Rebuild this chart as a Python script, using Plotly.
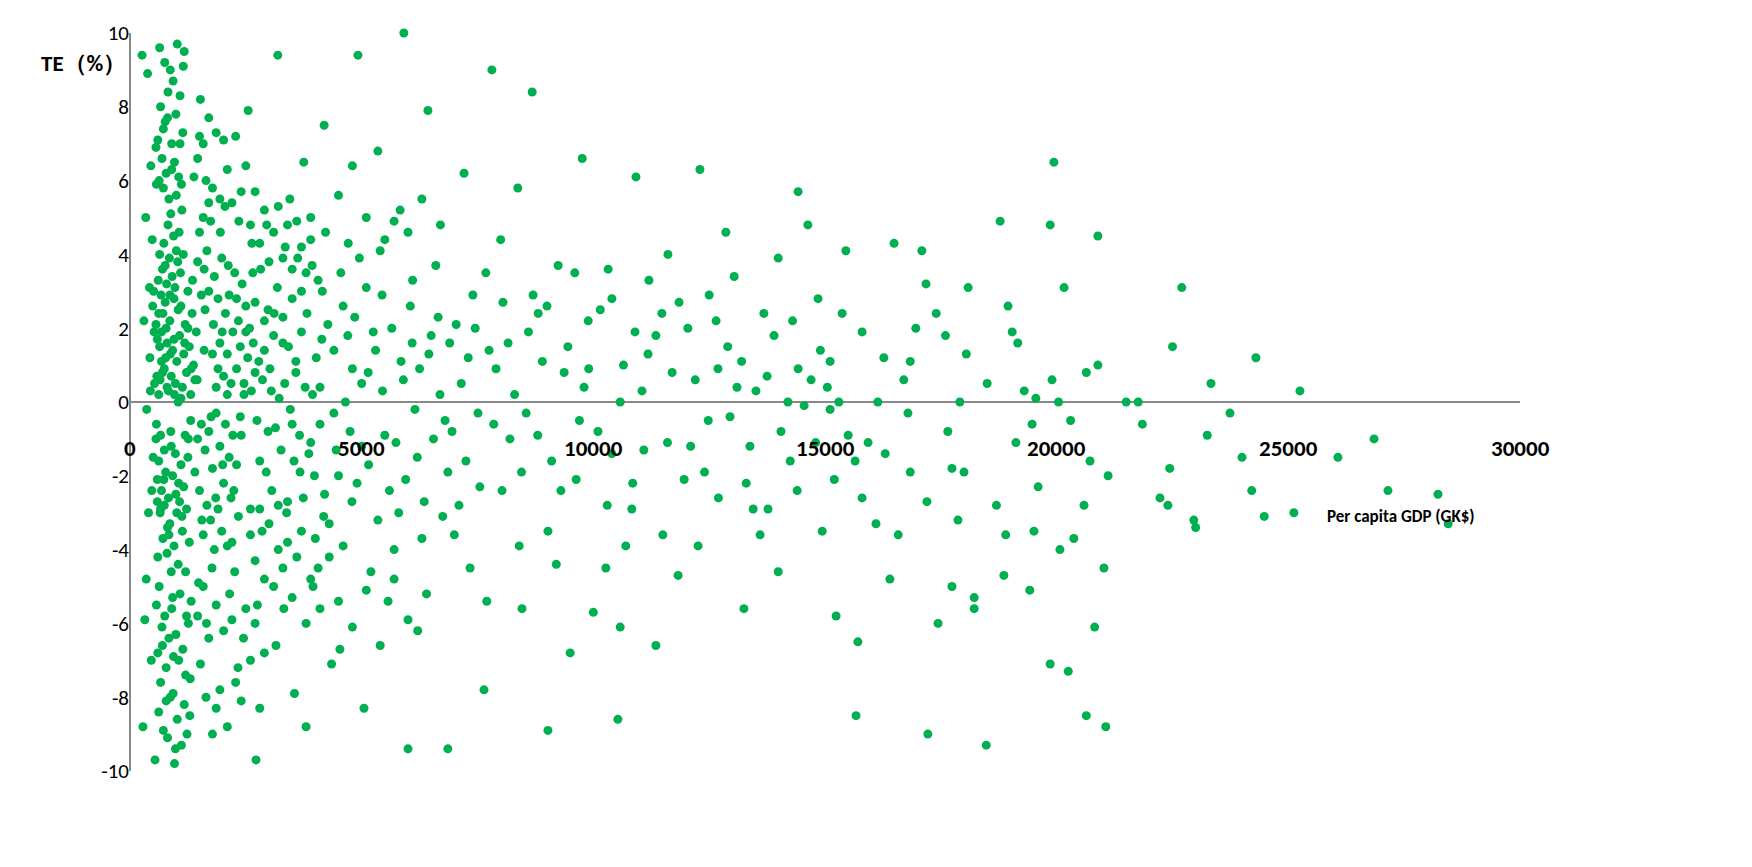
import plotly.graph_objects as go

# (per capita GDP, TE %)
POINTS = [
    (26850, -1.0), (28230, -2.5), (28450, -3.3), (27150, -2.4), (25250, 0.3), (24300, 1.2),
    (22700, 3.1), (22500, 1.5), (23330, 0.5), (23250, -0.9), (23740, -0.3), (24000, -1.5),
    (24210, -2.4), (24480, -3.1), (25120, -3.0), (26070, -1.5), (22440, -1.8), (22400, -2.8),
    (22230, -2.6), (22960, -3.2), (23000, -3.4), (21760, 0.0), (21500, 0.0), (21850, -0.6),
    (20890, 1.0), (20640, 0.8), (21020, -4.5), (21060, -8.8), (20640, -8.5), (20820, -6.1),
    (20890, 4.5), (19940, 6.5), (19860, 4.8), (20160, 3.1), (20250, -7.3), (19860, -7.1),
    (20070, -4.0), (20370, -3.7), (20590, -2.8), (20720, -1.6), (21110, -2.0), (20040, 0.0),
    (19900, 0.6), (19550, 0.1), (19470, -0.6), (19600, -2.3), (19510, -3.5), (19420, -5.1),
    (19120, -1.1), (19160, 1.6), (18950, 2.6), (19040, 1.9), (18780, 4.9), (18480, -9.3),
    (18220, -5.6), (18220, -5.3), (18860, -4.7), (18900, -3.6), (18090, 3.1), (18050, 1.3),
    (17910, 0.0), (17650, -0.8), (17740, -1.8), (17870, -3.2), (17740, -5.0), (17440, -6.0),
    (17220, -9.0), (17400, 2.4), (17090, 4.1), (17180, 3.2), (16960, 2.0), (16840, 1.1),
    (16790, -0.3), (16840, -1.9), (16580, -3.6), (16400, -4.8), (16490, 4.3), (16270, 1.2),
    (16140, 0.0), (15930, -1.1), (15800, -2.6), (15710, -6.5), (15670, -8.5), (15450, 4.1),
    (15370, 2.4), (15110, 1.1), (15110, -0.2), (15200, -2.1), (15240, -5.8), (14940, -3.5),
    (14850, 2.8), (14630, 4.8), (14420, 5.7), (14420, 0.9), (14250, -1.6), (14200, 0.0),
    (13990, 3.9), (13990, -4.6), (13770, -2.9), (13680, 2.4), (13510, 0.3), (13380, -1.2),
    (13250, -5.6), (13040, 3.4), (12860, 4.6), (12690, 0.9), (12480, -0.5), (12300, 6.3),
    (12260, -3.9), (12040, 2.0), (11960, -2.1), (11830, -4.7), (11610, 4.0), (11480, 2.4),
    (11350, -6.6), (11180, 1.3), (11090, -1.3), (10920, 6.1), (10830, -2.9), (10580, 0.0),
    (10580, -6.1), (10530, -8.6), (10320, 3.6), (10270, -4.5), (10100, -0.8), (9890, 2.2),
    (9760, 6.6), (9630, -2.1), (9500, -6.8), (9370, 0.8), (9240, 3.7), (9020, -3.5),
    (9020, -8.9), (8810, 2.4), (8680, 8.4), (8550, -0.3), (8460, -5.6), (8370, 5.8),
    (8160, 1.6), (8030, -2.4), (7810, 9.0), (7680, 3.5), (7640, -7.8), (7510, -0.3),
    (7340, -4.5), (7210, 6.2), (7040, 2.1), (6860, -1.9), (6860, -9.4), (6690, 0.2),
    (6600, 3.7), (6430, 7.9), (6300, -3.7), (6210, -6.2), (6090, 1.6), (6000, -9.4),
    (5910, 10.0), (5830, 5.2), (5740, -1.1), (5570, -5.4), (5440, 2.9), (5350, 6.8),
    (5140, 0.8), (5050, -8.3), (4920, 9.4), (4790, -2.7), (4710, 4.3), (4530, -6.7),
    (4400, -0.3), (4270, 2.1), (4190, 7.5), (4060, -4.5), (3930, 3.7), (3800, -8.8),
    (3670, -1.9), (3580, 1.1), (3450, 5.5), (3320, -5.6), (3190, 9.4), (3110, 2.4),
    (2980, -0.8), (2850, -3.5), (2720, -9.7), (2630, 4.3), (2550, 7.9), (2460, 0.5),
    (2330, -7.2), (2240, -2.4), (2120, 3.7), (1990, 1.9), (1860, -8.3), (1770, -4.5),
    (12900, 1.5), (13300, -2.2), (14700, 0.6), (15500, -0.9), (16100, -3.3), (11700, 0.8),
    (10900, 1.9), (10300, -2.8), (9800, 0.4), (9100, -1.6), (8900, 1.1), (8200, -1.0),
    (7900, 0.9), (7300, 1.2), (7100, -2.8), (6800, -0.5), (6500, 1.8), (6200, -1.5),
    (5900, 0.6), (5600, -2.4), (5300, 1.4), (5000, -1.2), (4800, 0.9), (4600, 2.6),
    (4500, -2.0), (4300, -3.3), (4100, 0.4), (3900, -1.1), (3700, 3.0), (3500, -0.6),
    (3400, -2.7), (3300, 1.6), (3200, -4.0), (3050, 0.3), (2900, 2.2), (2800, -1.6),
    (2700, 0.8), (2600, -2.9), (2500, 1.9), (2400, -0.9), (2300, 2.8), (2200, -3.8),
    (2100, 0.2), (2000, -1.7), (1950, 4.6), (1900, 0.9), (1850, -2.6), (1800, 2.1),
    (1750, -0.4), (1700, 5.4), (1650, -6.0), (1600, 1.4), (1550, -3.2), (1500, 7.2),
    (1450, 0.6), (1400, -1.9), (1350, 3.3), (1300, -7.5), (1250, 2.0), (1200, -4.6),
    (1150, 9.1), (1100, 0.1), (1050, -2.2), (1000, 4.1), (980, -9.4), (950, 1.7),
    (920, -5.3), (900, 6.3), (880, -0.8), (860, 2.9), (840, -3.6), (820, 8.4),
    (800, 0.4), (780, -8.1), (760, 3.7), (740, -1.3), (720, 5.8), (700, -6.6),
    (680, 1.1), (660, -2.9), (640, 9.6), (620, 2.4), (600, -4.2), (580, 0.7),
    (560, 6.9), (540, -9.7), (520, 1.9), (500, -1.5), (480, 4.4), (460, -7.0),
    (440, 0.3), (420, 3.1), (400, -3.0), (380, 8.9), (360, -0.2), (340, 5.0),
    (320, -5.9), (300, 2.2), (280, -8.8), (260, 9.4), (1320, 0.9), (1180, 1.6),
    (1040, 2.5), (960, 0.2), (870, 1.3), (780, 2.0), (700, 0.8), (640, 1.5),
    (570, -0.6), (510, 3.0), (470, -2.4), (430, 1.2), (1260, -1.0), (1120, -3.1),
    (990, -2.5), (890, -1.2), (810, -3.4), (730, -2.1), (660, -0.9), (590, -2.7),
    (530, 0.5), (490, 2.6), (1600, 3.6), (1480, -4.9), (1380, 6.1), (1220, -5.8),
    (1080, 7.0), (940, -6.9), (760, 7.6), (620, -8.4), (450, 6.4), (350, -4.8),
    (2050, 5.3), (2150, -5.2), (2350, 4.9), (2450, -6.4), (2650, 3.5), (2750, -5.5),
    (2950, 4.8), (3150, -6.6), (3350, 4.2), (3550, -7.9), (3750, 6.5), (3950, -5.0),
    (4150, 3.0), (4350, -7.1), (4650, 0.0), (4950, 3.9), (5200, -4.6), (5500, 4.4),
    (5800, -3.0), (6100, 3.3), (6400, -5.2), (6700, 4.8), (7000, -3.6), (7400, 2.9),
    (7700, -5.4), (8000, 4.4), (8400, -3.9), (8700, 2.9), (9200, -4.4), (9600, 3.5),
    (10000, -5.7), (10400, 2.8), (10700, -3.9), (11200, 3.3), (11500, -3.6), (12100, -1.2),
    (12500, 2.9), (12700, -2.6), (13100, 0.4), (13600, -3.6), (13900, 1.8), (14400, -2.4),
    (14900, 1.4), (15300, 0.0), (15800, 1.9), (16300, -1.4), (16700, 0.6), (17200, -2.7),
    (17600, 1.8), (18000, -1.9), (18500, 0.5), (18700, -2.8), (19300, 0.3), (20300, -0.5),
    # dense cluster, GDP under ~3000
    (620, 0.2), (650, 0.6), (680, 1.9), (710, 2.4), (740, 0.9), (770, 1.2), (800, 1.6),
    (830, 0.3), (860, 2.2), (890, 0.7), (920, 1.4), (950, 2.8), (980, 0.5), (1010, 1.1),
    (1040, 0.0), (1070, 1.8), (1100, 2.6), (1130, 0.4), (1160, 1.3), (1190, 2.1), (1220, 0.8),
    (1250, 3.0), (1280, 1.5), (1310, 0.2), (1340, 2.4), (1370, 1.0), (1400, 0.6), (1430, 1.9),
    (560, 2.1), (590, 1.7), (610, 3.3), (640, 4.0), (670, 2.9), (700, 3.6), (730, 4.3),
    (760, 2.7), (790, 3.2), (820, 4.8), (850, 3.9), (880, 5.1), (910, 3.4), (940, 4.5),
    (970, 3.1), (1000, 5.6), (1030, 3.8), (1060, 4.6), (1090, 3.5), (1120, 5.2), (1150, 4.0),
    (560, -1.0), (590, -2.1), (620, -1.6), (650, -3.0), (680, -2.4), (710, -3.7), (740, -2.8),
    (770, -1.9), (800, -4.1), (830, -2.6), (860, -3.3), (890, -4.6), (920, -2.0), (950, -3.9),
    (980, -1.4), (1010, -3.0), (1040, -4.4), (1070, -2.7), (1100, -1.7), (1130, -3.5),
    (1160, -2.3), (1190, -0.9), (1220, -2.9), (1250, -1.5), (1280, -3.8), (1310, -0.5),
    (570, 5.9), (600, 7.1), (630, 6.0), (660, 8.0), (690, 6.6), (720, 7.4), (750, 9.2),
    (780, 6.2), (810, 7.7), (840, 5.5), (870, 9.0), (900, 7.0), (930, 8.7), (960, 6.5),
    (990, 7.8), (1020, 9.7), (1050, 6.1), (1080, 8.3), (1110, 5.9), (1140, 7.3), (1170, 9.5),
    (570, -5.5), (600, -6.8), (630, -5.0), (660, -7.6), (690, -6.1), (720, -8.9), (750, -5.8),
    (780, -7.2), (810, -9.1), (840, -6.4), (870, -8.0), (900, -5.6), (930, -7.9), (960, -9.8),
    (990, -6.3), (1020, -8.6), (1050, -7.0), (1080, -5.2), (1110, -9.3), (1140, -6.7),
    (1170, -8.2), (1200, -7.4), (1230, -9.0), (1260, -6.0), (1290, -8.5), (1320, -5.4),
    (1460, 3.8), (1500, 4.6), (1540, 2.9), (1580, 5.0), (1620, 2.5), (1660, 4.1), (1700, 3.0),
    (1740, 4.9), (1780, 1.3), (1820, 3.4), (1860, 0.4), (1900, 2.8), (1940, 1.6), (1980, 3.9),
    (2020, 0.7), (2060, 2.4), (2100, 1.3), (2140, 2.9), (2180, 0.5), (2220, 1.9), (2260, 3.5),
    (2300, 0.9), (2340, 2.2), (2380, 1.5), (2420, 3.2), (2460, 0.2), (2500, 2.6), (2540, 1.2),
    (1460, -1.0), (1500, -2.4), (1540, -0.6), (1580, -3.6), (1620, -1.3), (1660, -2.8),
    (1700, -0.8), (1740, -3.2), (1780, -1.8), (1820, -4.0), (1860, -0.3), (1900, -2.9),
    (1940, -1.2), (1980, -3.5), (2020, -2.2), (2060, -0.6), (2100, -3.9), (2140, -1.5),
    (2180, -2.6), (2220, -0.9), (2260, -4.6), (2300, -1.7), (2340, -3.1), (2380, -0.4),
    (1460, 6.6), (1520, 8.2), (1580, 7.0), (1640, 6.0), (1700, 7.7), (1780, 5.8), (1860, 7.3),
    (1940, 5.5), (2020, 7.1), (2100, 6.3), (2200, 5.4), (2280, 7.2), (2400, 5.7), (2500, 6.4),
    (1460, -5.8), (1520, -7.1), (1580, -5.0), (1640, -8.0), (1700, -6.4), (1780, -9.0),
    (1860, -5.5), (1940, -7.8), (2020, -6.2), (2100, -8.8), (2200, -5.9), (2280, -7.6),
    (2400, -8.1), (2500, -5.6), (2600, -7.0), (2700, -6.0), (2800, -8.3), (2900, -6.8),
    (2580, 2.0), (2620, 0.3), (2660, 1.6), (2700, 2.7), (2740, -0.5), (2780, 1.1), (2820, 3.6),
    (2860, 0.6), (2900, 1.4), (2940, -1.9), (2980, 2.5), (3020, 0.9), (3060, -2.4), (3100, 1.8),
    (3140, -0.7), (3180, 3.1), (3220, 0.1), (3260, -1.3), (3300, 2.3), (3340, 0.5), (3380, -3.0),
    (3420, 1.5), (3460, -0.2), (3500, 2.8), (3540, -1.6), (3580, 0.8), (3620, 3.9), (3660, -0.9),
    (3700, 1.9), (3740, -2.6), (3780, 0.4), (3820, 2.4), (3860, -1.4), (3900, 4.4), (3940, 0.2),
    (3980, -2.0), (4020, 1.2), (4060, 3.3), (4100, -0.6), (4140, 1.7), (4180, -3.1), (4220, 4.6),
    (2600, -3.6), (2700, -4.3), (2800, -2.9), (2900, -4.8), (3000, -3.3), (3100, -5.0),
    (3200, -2.8), (3300, -4.5), (3400, -3.8), (3500, -5.3), (3600, -4.2), (3700, -3.5),
    (3800, -6.0), (3900, -4.8), (4000, -3.7), (4100, -5.6), (4200, -2.5), (4300, -4.2),
    (2600, 4.8), (2700, 5.7), (2800, 4.3), (2900, 5.2), (3000, 3.8), (3100, 4.6), (3200, 5.3),
    (3300, 3.9), (3400, 4.8), (3500, 3.6), (3600, 4.9), (3700, 4.2), (3800, 3.5), (3900, 5.0),
    (4400, 1.4), (4450, -1.3), (4550, 3.5), (4600, -3.9), (4700, 1.8), (4750, -0.8), (4850, 2.3),
    (4900, -2.2), (5000, 0.5), (5100, 3.1), (5150, -1.7), (5250, 1.9), (5350, -3.2), (5450, 0.3),
    (5500, -0.9), (5650, 2.0), (5700, -4.0), (5850, 1.1), (5950, -2.1), (6050, 2.6), (6150, -0.2),
    (6250, 0.9), (6350, -2.7), (6450, 1.3), (6550, -1.0), (6650, 2.3), (6750, -3.1), (6900, 1.6),
    (6950, -0.8), (7150, 0.5), (7250, -1.6), (7450, 2.0), (7550, -2.3), (7750, 1.4), (7850, -0.6),
    (8050, 2.7), (8300, 0.2), (8450, -1.9), (8600, 1.9), (8800, -0.9), (9000, 2.6), (9300, -2.4),
    (9450, 1.5), (9700, -0.5), (9900, 0.9), (10150, 2.5), (10400, -1.4), (10650, 1.0),
    (10850, -2.2), (11050, 0.3), (11350, 1.8), (11600, -1.1), (11850, 2.7), (12200, 0.6),
    (12400, -1.9), (12650, 2.2), (12950, -0.4), (13200, 1.1), (13450, -2.9), (13750, 0.7),
    (14050, -0.8), (14300, 2.2), (14550, -0.1), (14800, -1.1), (15050, 0.4), (15650, -1.6),
    (4500, 5.6), (4800, 6.4), (5100, 5.0), (5400, 4.1), (5700, 4.9), (6000, 4.6), (6300, 5.5),
    (4500, -5.4), (4800, -6.1), (5100, -5.1), (5400, -6.6), (5700, -4.8), (6000, -5.9),
]
X_TICKS = [0, 5000, 10000, 15000, 20000, 25000, 30000]
Y_TICKS = [10, 8, 6, 4, 2, 0, -2, -4, -6, -8, -10]

gdp = [p[0] for p in POINTS]
te = [p[1] for p in POINTS]

fig = go.Figure(go.Scatter(
    x=gdp, y=te, mode="markers",
    marker=dict(color="#00B050", size=9),
    showlegend=False, cliponaxis=False,
))

fig.update_layout(
    width=1752, height=867,
    plot_bgcolor="white", paper_bgcolor="white",
    margin=dict(l=122, r=240, t=17, b=104),
    font=dict(family="Calibri, Liberation Sans, Arial", color="black"),
    xaxis=dict(range=[0, 30000], showgrid=False, showticklabels=False,
               zeroline=True, zerolinecolor="#888888", zerolinewidth=2),
    yaxis=dict(range=[-10, 10], tickvals=Y_TICKS, ticktext=[str(v) for v in Y_TICKS],
               showgrid=False, tickfont=dict(size=21), ticks="", ticklen=0,
               zeroline=True, zerolinecolor="#888888", zerolinewidth=2),
)

for t in X_TICKS:
    fig.add_annotation(x=t, y=0, text=f"<b>{t}</b>", showarrow=False,
                       yanchor="top", yshift=-30, font=dict(size=23))

fig.add_annotation(x=0, y=9.2, xref="x", text="<b>TE（%）</b>", showarrow=False,
                   xanchor="right", xshift=-2, font=dict(size=23))
fig.add_annotation(x=25800, y=-3.1, text="<b>Per capita GDP (GK$)</b>", showarrow=False,
                   xanchor="left", font=dict(size=17))

fig.write_html("out.html")
